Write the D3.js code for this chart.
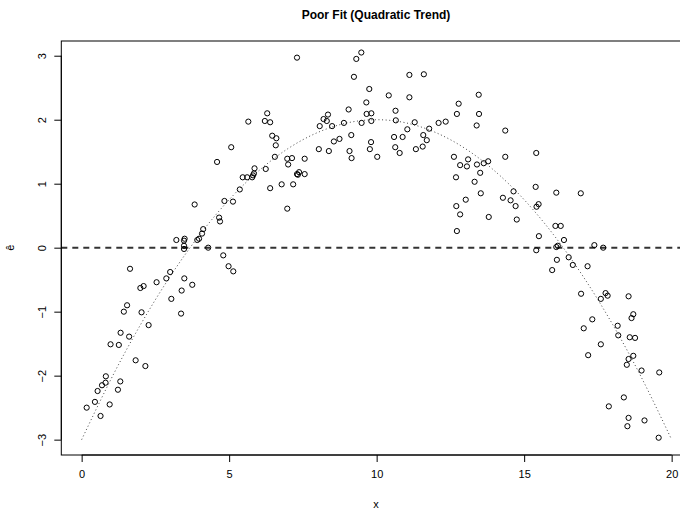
<!DOCTYPE html>
<html lang="en">
<head>
<meta charset="UTF-8">
<title>Poor Fit (Quadratic Trend)</title>
<script src="https://cdnjs.cloudflare.com/ajax/libs/d3/7.8.5/d3.min.js"></script>
<style>
  body { margin: 0; background: #fff; }
  svg { display: block; font-family: "Liberation Sans", Arial, Helvetica, sans-serif; }
</style>
</head>
<body>
<div id="chart"></div>
<script>
// residuals
const xs = [
  0.17,0.45,0.64,0.95,0.54,1.23,0.69,0.81,1.31,0.82,2.16,1.83,0.98,1.26,1.61,1.32,2.27,1.43,2.03,3.37,
  1.54,3.04,3.39,2.10,1.99,3.75,2.54,2.87,3.48,3.00,1.64,3.47,3.47,4.29,3.21,3.49,3.47,3.92,3.98,4.08,
  4.12,4.66,4.69,3.83,4.59,4.80,4.98,5.14,
  7.30,9.48,9.31,9.23,9.75,9.65,9.05,6.29,9.66,9.82,8.35,6.21,6.39,5.65,8.20,8.31,8.89,9.49,9.82,8.07,
  8.49,9.14,6.46,6.60,6.58,8.55,8.74,9.81,9.77,8.04,8.38,9.08,9.15,5.07,6.55,6.97,7.13,7.56,7.00,5.86,
  6.24,5.84,5.81,5.78,5.46,5.61,7.37,7.30,7.33,7.56,6.39,6.78,7.17,5.36,4.84,5.13,6.97,
  11.11,11.60,10.41,11.11,13.46,12.78,10.64,12.72,13.47,10.65,11.29,12.10,12.34,13.39,11.04,11.78,14.36,
  10.59,10.88,11.58,11.70,10.63,10.78,11.33,11.56,10.02,12.62,13.10,12.83,13.06,13.40,13.63,13.78,14.36,
  13.51,12.69,13.32,13.53,14.64,14.28,14.54,14.71,13.02,12.70,12.83,13.80,14.75,12.72,
  15.41,15.39,16.09,16.92,15.49,15.42,16.06,16.24,15.50,16.35,16.09,16.14,17.38,17.68,15.41,
  16.11,15.95,16.51,16.65,17.15,16.93,17.76,17.83,17.60,18.54,18.70,18.64,17.31,17.02,18.17,18.19,
  18.58,18.76,17.60,17.17,18.70,18.54,18.48,18.98,19.58,18.38,17.87,18.54,18.50,19.08,19.56
];
const es = [
  -2.50,-2.41,-2.63,-2.45,-2.24,-2.22,-2.15,-2.11,-2.09,-2.01,-1.85,-1.76,-1.51,-1.52,-1.39,-1.33,-1.21,-1.00,-1.01,-1.03,
  -0.90,-0.80,-0.67,-0.60,-0.63,-0.58,-0.54,-0.48,-0.48,-0.38,-0.33,0.03,-0.02,0.00,0.12,0.14,0.11,0.12,0.14,0.22,
  0.29,0.47,0.41,0.675,1.34,-0.12,-0.29,-0.37,
  2.97,3.05,2.95,2.67,2.48,2.27,2.16,2.10,2.09,2.10,2.08,1.98,1.96,1.97,2.01,1.98,1.95,1.95,1.98,1.90,
  1.90,1.76,1.75,1.71,1.60,1.66,1.70,1.65,1.54,1.54,1.51,1.51,1.40,1.57,1.42,1.39,1.40,1.39,1.30,1.24,
  1.23,1.16,1.13,1.10,1.10,1.10,1.18,1.15,1.14,1.15,0.93,0.99,0.99,0.91,0.73,0.72,0.61,
  2.70,2.71,2.38,2.35,2.39,2.25,2.14,2.09,2.09,1.99,1.96,1.95,1.97,1.91,1.85,1.86,1.83,
  1.73,1.73,1.76,1.68,1.57,1.48,1.54,1.58,1.42,1.42,1.38,1.29,1.27,1.30,1.32,1.35,1.42,
  1.17,1.10,1.03,0.85,0.88,0.78,0.74,0.65,0.75,0.65,0.52,0.48,0.44,0.26,
  1.48,0.95,0.86,0.85,0.68,0.64,0.34,0.34,0.18,0.12,0.01,0.03,0.04,0.00,-0.04,
  -0.19,-0.35,-0.15,-0.27,-0.29,-0.72,-0.71,-0.75,-0.80,-0.76,-1.04,-1.10,-1.12,-1.26,-1.22,-1.37,
  -1.40,-1.41,-1.51,-1.68,-1.69,-1.74,-1.83,-1.92,-1.95,-2.34,-2.48,-2.66,-2.79,-2.70,-2.97
];

// dotted trend, read at whole x
const trendX = [0,1,2,3,4,5,6,7,8,9,10,11,12,13,14,15,16,17,18,19,20];
const trendY = [-3,-2.05,-1.2,-0.45,0.2,0.75,1.2,1.55,1.8,1.95,2,1.95,1.8,1.55,1.2,0.75,0.2,-0.45,-1.2,-2.05,-3];

const xTicks = [0, 5, 10, 15, 20];
const yTicks = [-3, -2, -1, 0, 1, 2, 3];

const width = 680, height = 510;
const plotLeft = 61.3, plotRight = 692, plotTop = 41, plotBottom = 455;

const svg = d3.select("#chart").append("svg")
  .attr("width", width)
  .attr("height", height);

const x = d3.scaleLinear().domain([-0.69, 20.69]).range([plotLeft, plotRight]);
const y = d3.scaleLinear().domain([-3.24, 3.23]).range([plotBottom, plotTop]);

// title
svg.append("text")
  .attr("x", 376)
  .attr("y", 19)
  .attr("text-anchor", "middle")
  .style("font-size", "12px")
  .style("font-weight", "bold")
  .text("Poor Fit (Quadratic Trend)");

// zero reference line
svg.append("line")
  .attr("x1", plotLeft).attr("x2", plotRight)
  .attr("y1", y(0)).attr("y2", y(0))
  .attr("stroke", "#333")
  .attr("stroke-width", 2)
  .attr("stroke-dasharray", "6,5");

// true trend
const line = d3.line()
  .x((d, i) => x(trendX[i]))
  .y(d => y(d))
  .curve(d3.curveNatural);

svg.append("path")
  .attr("d", line(trendY))
  .attr("fill", "none")
  .attr("stroke", "#444")
  .attr("stroke-width", 1)
  .attr("stroke-dasharray", "1,2.6");

// points
svg.append("g").selectAll("circle")
  .data(xs)
  .join("circle")
  .attr("cx", d => x(d))
  .attr("cy", (d, i) => y(es[i]))
  .attr("r", 2.6)
  .attr("fill", "none")
  .attr("stroke", "#000")
  .attr("stroke-width", 1);

// box
svg.append("rect")
  .attr("x", plotLeft).attr("y", plotTop)
  .attr("width", plotRight - plotLeft).attr("height", plotBottom - plotTop)
  .attr("fill", "none")
  .attr("stroke", "#000")
  .attr("stroke-width", 1);

// x axis
const gx = svg.append("g")
  .attr("transform", "translate(0," + plotBottom + ")")
  .call(d3.axisBottom(x).tickValues(xTicks).tickSize(7).tickPadding(8).tickSizeOuter(0));
gx.select(".domain").remove();
gx.append("line")
  .attr("x1", x(0)).attr("x2", x(20))
  .attr("stroke", "#000");
gx.selectAll("text")
  .style("font-size", "11px")
  .attr("fill", "#000")
  .style("font-family", "'Liberation Sans', Arial, sans-serif");

// y axis
const gy = svg.append("g")
  .attr("transform", "translate(" + plotLeft + ",0)")
  .call(d3.axisLeft(y).tickValues(yTicks).tickSize(7).tickSizeOuter(0));
gy.select(".domain").remove();
gy.append("line")
  .attr("y1", y(-3)).attr("y2", y(3))
  .attr("stroke", "#000");
gy.selectAll(".tick text")
  .attr("x", 0)
  .attr("dy", 0)
  .attr("text-anchor", "middle")
  .attr("transform", "translate(-15,0) rotate(-90)")
  .attr("fill", "#000")
  .style("font-size", "11px")
  .style("font-family", "'Liberation Sans', Arial, sans-serif")
  .text(d => d < 0 ? "\u2212" + Math.abs(d) : d);

// axis titles
svg.append("text")
  .attr("x", 376)
  .attr("y", 508)
  .attr("text-anchor", "middle")
  .style("font-size", "11px")
  .text("x");

svg.append("text")
  .attr("transform", "translate(14," + y(0) + ") rotate(-90)")
  .attr("text-anchor", "middle")
  .style("font-size", "11px")
  .text("\u00ea");
</script>
</body>
</html>
